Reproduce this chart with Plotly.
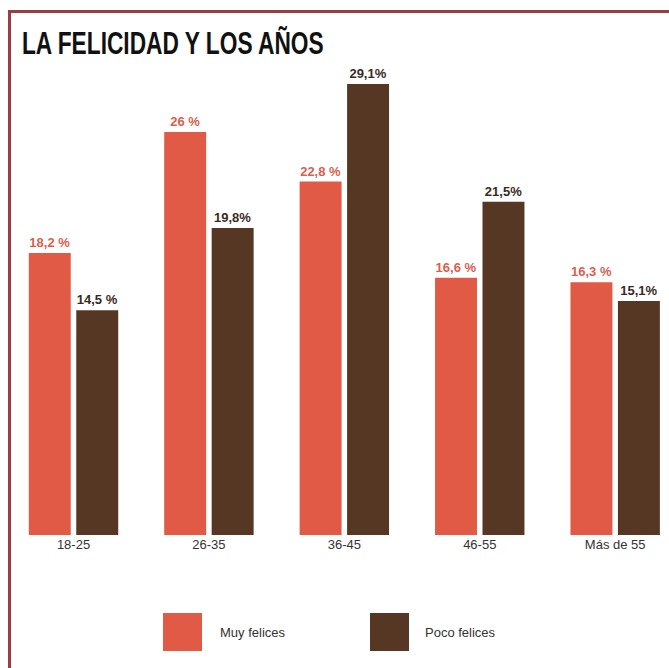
import plotly.graph_objects as go

W, H = 669, 668

categories = ["18-25", "26-35", "36-45", "46-55", "Más de 55"]
muy_felices = [18.2, 26.0, 22.8, 16.6, 16.3]
poco_felices = [14.5, 19.8, 29.1, 21.5, 15.1]
muy_labels = ["18,2 %", "26 %", "22,8 %", "16,6 %", "16,3 %"]
poco_labels = ["14,5 %", "19,8%", "29,1%", "21,5%", "15,1%"]
series_names = ["Muy felices", "Poco felices"]
title_text = "LA FELICIDAD Y LOS AÑOS"

RED = "#e05a46"
BROWN = "#553723"
RED_TXT = "#d9604f"
BROWN_TXT = "#3a2a1e"
BORDER = "#9a3b45"

def px(x):
    return x / W

def py(y):
    return 1 - y / H

fig = go.Figure()
fig.add_trace(go.Bar(
    x=categories, y=muy_felices, name=series_names[0],
    marker=dict(color=RED, line=dict(width=0)),
    text=muy_labels, textposition="outside", cliponaxis=False,
    textfont=dict(family="Liberation Sans", size=13, color=RED_TXT, weight="bold"),
))
fig.add_trace(go.Bar(
    x=categories, y=poco_felices, name=series_names[1],
    marker=dict(color=BROWN, line=dict(width=0)),
    text=poco_labels, textposition="outside", cliponaxis=False,
    textfont=dict(family="Liberation Sans", size=13, color=BROWN_TXT, weight="bold"),
))

shapes = [
    dict(type="path", xref="paper", yref="paper",
         path=f"M {px(9.5)} {py(H + 5)} L {px(9.5)} {py(11.5)} L {px(W + 5)} {py(11.5)}",
         line=dict(color=BORDER, width=3)),
    dict(type="rect", xref="paper", yref="paper",
         x0=px(163), x1=px(202), y0=py(651), y1=py(613),
         fillcolor=RED, line=dict(width=0)),
    dict(type="rect", xref="paper", yref="paper",
         x0=px(370), x1=px(409), y0=py(651), y1=py(613),
         fillcolor=BROWN, line=dict(width=0)),
]

annotations = [
    dict(text=title_text, xref="paper", yref="paper", x=px(20), y=py(43),
         xanchor="left", yanchor="middle", showarrow=False,
         font=dict(family="Liberation Sans", size=32, color="#111111", weight="bold")),
    dict(text=series_names[0], xref="paper", yref="paper", x=px(218), y=py(632),
         xanchor="left", yanchor="middle", showarrow=False,
         font=dict(family="Liberation Sans", size=13, color="#333333")),
    dict(text=series_names[1], xref="paper", yref="paper", x=px(423), y=py(632),
         xanchor="left", yanchor="middle", showarrow=False,
         font=dict(family="Liberation Sans", size=13, color="#333333")),
]

fig.update_layout(
    width=W, height=H,
    margin=dict(l=0, r=0, t=0, b=0),
    paper_bgcolor="white", plot_bgcolor="white",
    showlegend=False,
    barmode="group", bargap=0.299, bargroupgap=0.116,
    shapes=shapes, annotations=annotations,
    xaxis=dict(domain=[px(15), px(665)], range=[-0.432, 4.368],
               showgrid=False, zeroline=False, showline=False, ticks="",
               tickfont=dict(family="Liberation Sans", size=13, color="#333333"),
               fixedrange=True),
    yaxis=dict(domain=[py(535), py(70)], range=[0, 30],
               showgrid=False, zeroline=False, showline=False,
               showticklabels=False, fixedrange=True),
)

post = """
document.body.style.margin='0';
document.body.style.overflow='hidden';
var gd = document.getElementById('{plot_id}');
gd.querySelectorAll('.annotation-text').forEach(function(t){
  if (t.textContent.indexOf('FELICIDAD') >= 0) {
    t.style.transformBox = 'fill-box';
    t.style.transformOrigin = 'left center';
    t.style.transform = 'scaleX(0.71)';
  }
});
"""

fig.write_html("out.html", config={"displayModeBar": False}, post_script=post)
